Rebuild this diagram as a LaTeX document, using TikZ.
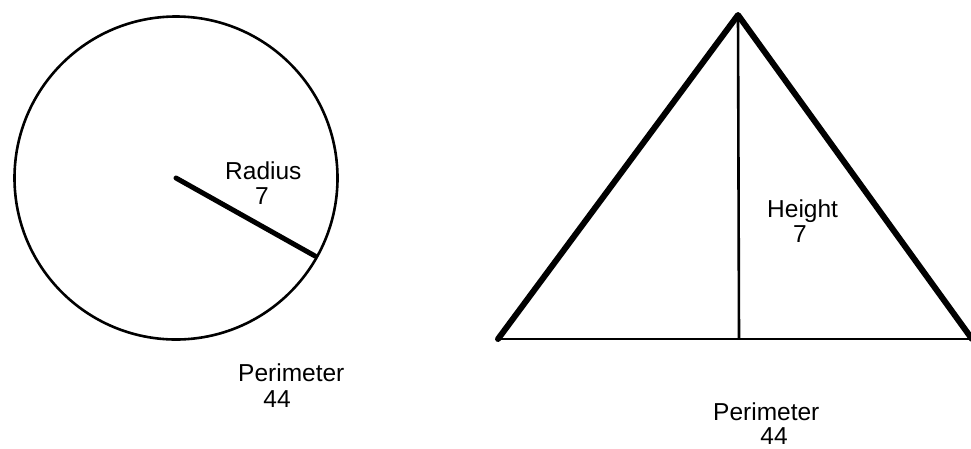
\documentclass[tikz,border=0pt]{standalone}
\usepackage{fontspec}
\setmainfont{Liberation Sans}
\begin{document}
\begin{tikzpicture}[x=1pt,y=-1pt,
  thin line/.style={line width=2.6pt},
  thick line/.style={line width=6pt, line cap=round, line join=round},
  label text/.style={inner sep=0pt, font=\fontsize{24.5}{24.5}\selectfont}]
\useasboundingbox (0,0) rectangle (971,448);
% circle
\coordinate (cc) at (176,178);
\draw[thin line] (cc) circle[radius=161.5];
\coordinate (rend) at (315,256);
\draw[line width=5pt, line cap=round] (cc) -- (rend);
\node[label text, anchor=base west] (rad) at (225,179) {Radius};
\node[label text, anchor=base] (radv) at (262,204) {7};
\node[label text, anchor=base west] (per1) at (238,381) {Perimeter};
\node[label text, anchor=base] (per1v) at (277,407) {44};
% triangle
\coordinate (apex) at (738,15);
\coordinate (bl) at (498,339);
\coordinate (br) at (972,339);
\coordinate (foot) at (739,339);
\draw[thin line] (bl) -- (br);
\draw[thin line] (apex) -- (foot);
\draw[thick line] (bl) -- (apex) -- (br);
\node[label text, anchor=base west] (hgt) at (767,217) {Height};
\node[label text, anchor=base] (hgtv) at (800,242) {7};
\node[label text, anchor=base west] (per2) at (713,420) {Perimeter};
\node[label text, anchor=base] (per2v) at (774,444) {44};
\end{tikzpicture}
\end{document}
